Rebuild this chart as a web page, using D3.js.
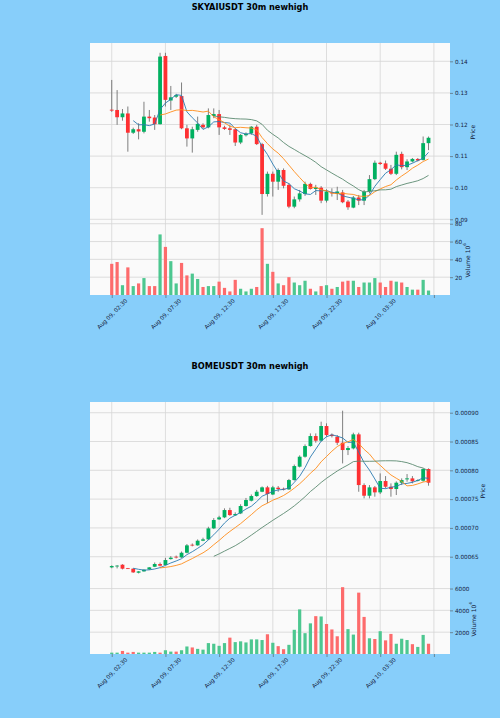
<!DOCTYPE html>
<html><head><meta charset="utf-8">
<script src="https://cdn.jsdelivr.net/npm/d3@7/dist/d3.min.js"></script>
<style>html,body{margin:0;padding:0;background:#87cefa;}svg{display:block;font-family:"DejaVu Sans",sans-serif;}</style>
</head><body>
<svg id="chart" width="500" height="718"></svg>
<script>
// ---------- shared x-axis ----------
const xTickIndex  = [0, 10, 20, 30, 40, 50, 60];
const xTickLabels = ["Aug 09, 02:30", "Aug 09, 07:30", "Aug 09, 12:30", "Aug 09, 17:30", "Aug 09, 22:30", "Aug 10, 03:30", ""];
const mavPeriods  = [5, 10, 20];

// ---------- SKYAIUSDT ----------
const skyTitle = "SKYAIUSDT 30m newhigh";
const skyOpen  = [.1247,.1246,.1223,.1235,.1174,.1185,.1177,.1225,.1222,.1201,.1417,.1276,.1288,.1290,.1188,.1156,.1183,.1199,.1191,.1227,.1233,.1191,.1188,.1185,.1143,.1166,.1172,.1193,.1138,.0980,.1044,.1019,.1056,.1009,.0940,.0963,.0980,.1012,.0996,.1000,.0959,.0985,.0980,.0985,.0956,.0937,.0969,.0959,.0988,.1027,.1079,.1077,.1060,.1044,.1107,.1065,.1083,.1091,.1088,.1141];
const skyHigh  = [.1341,.1309,.1249,.1257,.1190,.1204,.1272,.1246,.1230,.1427,.1427,.1322,.1297,.1333,.1199,.1193,.1225,.1204,.1251,.1251,.1246,.1196,.1199,.1188,.1170,.1175,.1195,.1199,.1142,.1051,.1051,.1061,.1061,.1014,.0972,.0993,.1019,.1016,.1009,.1005,.0995,.0998,.1003,.0993,.0961,.0974,.0977,.0993,.1040,.1086,.1082,.1086,.1072,.1114,.1114,.1090,.1094,.1094,.1162,.1162];
const skyLow   = [.1240,.1199,.1212,.1114,.1170,.1153,.1172,.1209,.1183,.1200,.1257,.1246,.1284,.1185,.1130,.1111,.1177,.1186,.1188,.1220,.1167,.1183,.1167,.1132,.1138,.1162,.1167,.1135,.0914,.0972,.0972,.0993,.0998,.0935,.0935,.0956,.0974,.0994,.0977,.0951,.0953,.0972,.0961,.0951,.0930,.0935,.0945,.0945,.0982,.1024,.1072,.1056,.1040,.1040,.1058,.1056,.1080,.1083,.1086,.1119];
const skyClose = [.1244,.1223,.1235,.1174,.1185,.1178,.1225,.1220,.1201,.1415,.1278,.1286,.1293,.1188,.1156,.1185,.1202,.1191,.1230,.1233,.1191,.1186,.1183,.1143,.1167,.1171,.1193,.1138,.0980,.1044,.1019,.1056,.1006,.0940,.0963,.0982,.1012,.0996,.1001,.0959,.0988,.0982,.0988,.0954,.0938,.0969,.0959,.0988,.1027,.1079,.1075,.1060,.1044,.1104,.1065,.1083,.1091,.1086,.1141,.1158];
const skyVolume = [35,37,11,31,10,13,19,10,10,68,54,38,13,36,22,24,18,9,10,10,15,8,4,17,7,4,7,9,75,35,26,13,11,20,14,11,16,7,4,10,11,7,9,15,16,16,9,14,14,19,14,9,16,15,14,9,6,6,17,5];
const skyPriceTicks = [0.09, 0.10, 0.11, 0.12, 0.13, 0.14];
const skyPriceRange = [0.0893, 0.1458];
const skyVolTicks = [20, 40, 60, 80];
const skyVolExp = "6";

// ---------- BOMEUSDT ----------
const bomeTitle = "BOMEUSDT 30m newhigh";
const bomeOpen  = [.0006315,.000634,.0006361,.00063,.0006292,.0006222,.0006245,.000628,.0006326,.0006373,.0006355,.0006459,.00065,.0006488,.0006569,.0006708,.0006697,.0006778,.0006801,.0006992,.0007148,.0007183,.000731,.0007218,.0007252,.000738,.0007472,.0007553,.0007628,.0007704,.000758,.0007698,.000768,.0007669,.0007831,.0008063,.0008236,.0008421,.0008595,.0008514,.0008769,.0008618,.0008583,.0008479,.0008352,.0008381,.0008624,.0007744,.0007559,.0007704,.0007617,.0007814,.0007715,.0007675,.0007785,.0007843,.000786,.0007819,.0007819,.0008022];
const bomeHigh  = [.000635,.0006355,.000637,.0006305,.00063,.000625,.000628,.000632,.00064,.00064,.000648,.000651,.000652,.000659,.000672,.000673,.00068,.000683,.000702,.000717,.000721,.000734,.000735,.000727,.000741,.000752,.000758,.000766,.000772,.000773,.000773,.0007727,.00077,.000785,.00081,.000826,.000845,.0008641,.0008641,.0008844,.0008815,.000864,.0008612,.0009035,.0008421,.0008653,.0008653,.0007773,.0007744,.0007727,.0007947,.00079,.0007773,.0007808,.000786,.0007935,.00079,.0007843,.0008034,.0008034];
const bomeLow   = [.00063,.0006297,.000628,.000629,.000622,.000621,.000624,.000627,.000632,.000633,.000635,.000645,.000647,.000648,.000656,.000668,.000669,.000677,.000679,.000698,.000714,.000717,.000721,.000721,.000724,.000737,.000746,.000754,.000762,.000743,.000757,.0007628,.000765,.000766,.000782,.000805,.000822,.000841,.0008479,.00085,.0008583,.000857,.0008439,.000812,.0008265,.0008363,.0007628,.0007513,.0007513,.0007542,.0007588,.0007686,.0007542,.0007571,.0007744,.0007802,.0007773,.0007808,.0007802,.0007733];
const bomeClose = [.0006338,.0006345,.0006292,.0006297,.0006228,.0006245,.0006274,.0006315,.0006373,.0006344,.0006442,.0006483,.0006488,.0006569,.0006697,.0006697,.0006778,.0006801,.0006992,.0007137,.0007183,.000731,.0007223,.0007241,.000738,.0007484,.0007553,.0007628,.0007704,.0007588,.0007704,.0007675,.000767,.0007831,.0008074,.0008236,.0008421,.0008595,.0008514,.0008769,.0008612,.0008595,.0008479,.0008352,.0008387,.0008624,.0007744,.0007559,.0007704,.0007617,.0007814,.0007715,.0007675,.0007785,.0007831,.000786,.0007808,.0007831,.0008022,.0007785];
const bomeVolume = [125,125,280,125,190,125,125,125,190,125,345,220,220,345,690,600,470,400,1000,940,750,1000,1500,1090,1160,1060,1340,1340,1280,1810,1030,720,440,840,2220,4090,1910,2810,3470,3440,2750,2250,1625,6125,2280,1780,5625,3400,1440,1375,2090,1250,1840,940,1400,1280,900,650,1750,940];
const bomePriceTicks = [0.00065, 0.00070, 0.00075, 0.00080, 0.00085, 0.00090];
const bomePriceRange = [0.0006087, 0.0009186];
const bomeVolTicks = [2000, 4000, 6000];
const bomeVolExp = "4";

// ---------- styling ----------
const UP = "#00b060", DOWN = "#fe3032", WICK = "#606060";
const VUP = "#4dc790", VDOWN = "#fd6b6c";
const MAV_COLORS = ["#2a7ab0", "#ff8c1a", "#5b8a70"];
const FACE = "#fafafa", GRID = "#d6d6d6", TXT = "#14203a";

const svg = d3.select("#chart");

function sma(arr, p) {
  return arr.map((v, i) => i < p - 1 ? null : d3.mean(arr.slice(i - p + 1, i + 1)));
}

function drawChart(cfg, off, lay) {
  const g = svg.append("g").attr("transform", `translate(0,${off})`);
  const L = 90, R = 450, top = 43, mid = 221.5, bot = 295;
  const n = cfg.open.length;
  const x = d3.scaleLinear().domain([-4.05, n + 3]).range([L, R]);
  const y = d3.scaleLinear().domain(cfg.priceRange).range([mid, top]);
  const vy = d3.scaleLinear().domain([0, d3.max(cfg.volume) * 1.1]).range([bot, mid]);

  g.append("text").attr("x", 250).attr("y", 10).attr("text-anchor", "middle")
    .attr("font-size", 8.2).attr("font-weight", "bold").attr("fill", "#000").text(cfg.title);

  g.append("rect").attr("x", L).attr("y", top).attr("width", R - L).attr("height", bot - top).attr("fill", FACE);

  // grid
  const grid = g.append("g").attr("stroke", GRID).attr("stroke-width", 0.8);
  xTickIndex.forEach(i => grid.append("line").attr("x1", x(i)).attr("x2", x(i)).attr("y1", top).attr("y2", bot));
  cfg.priceTicks.forEach(t => grid.append("line").attr("x1", L).attr("x2", R).attr("y1", y(t)).attr("y2", y(t)));
  cfg.volTicks.forEach(t => grid.append("line").attr("x1", L).attr("x2", R).attr("y1", vy(t)).attr("y2", vy(t)));

  const idx = d3.range(n);
  // volume bars
  g.append("g").selectAll("rect").data(idx).join("rect")
    .attr("x", i => x(i) - 1.6).attr("width", 3.2)
    .attr("y", i => vy(cfg.volume[i])).attr("height", i => bot - vy(cfg.volume[i]))
    .attr("fill", i => cfg.close[i] >= cfg.open[i] ? VUP : VDOWN);

  // wicks
  g.append("g").selectAll("line").data(idx).join("line")
    .attr("x1", i => x(i)).attr("x2", i => x(i))
    .attr("y1", i => y(cfg.high[i])).attr("y2", i => y(cfg.low[i]))
    .attr("stroke", WICK).attr("stroke-width", 0.8);
  // bodies
  g.append("g").selectAll("rect").data(idx).join("rect")
    .attr("x", i => x(i) - 1.9).attr("width", 3.8)
    .attr("y", i => y(Math.max(cfg.open[i], cfg.close[i])))
    .attr("height", i => Math.max(0.8, Math.abs(y(cfg.open[i]) - y(cfg.close[i]))))
    .attr("fill", i => cfg.close[i] >= cfg.open[i] ? UP : DOWN);

  // moving averages
  mavPeriods.forEach((p, k) => {
    const m = sma(cfg.close, p);
    const line = d3.line().defined(d => d !== null).x((d, i) => x(i)).y(d => y(d));
    g.append("path").datum(m).attr("d", line).attr("fill", "none")
      .attr("stroke", MAV_COLORS[k]).attr("stroke-width", 0.9);
  });

  // axes
  const ya = g.append("g").attr("transform", `translate(${R},0)`)
    .call(d3.axisRight(y).tickValues(cfg.priceTicks).tickSize(3).tickPadding(2).tickFormat(cfg.fmt));
  const va = g.append("g").attr("transform", `translate(${R},0)`)
    .call(d3.axisRight(vy).tickValues(cfg.volTicks).tickSize(3).tickPadding(2).tickFormat(d3.format("d")));
  const xa = g.append("g").attr("transform", `translate(0,${bot})`)
    .call(d3.axisBottom(x).tickValues(xTickIndex).tickSize(3).tickFormat((d, i) => xTickLabels[i]));
  [ya, va, xa].forEach(a => {
    a.select(".domain").remove();
    a.selectAll(".tick line").attr("stroke", "#555").attr("stroke-width", 0.6);
    a.selectAll("text").attr("fill", TXT).attr("font-size", 5.7).attr("font-family", "DejaVu Sans");
  });
  xa.selectAll("text").attr("y", 0).attr("dy", "0.35em").attr("text-anchor", "middle")
    .attr("transform", "translate(0,19) rotate(-45)");

  g.append("text").attr("transform", `translate(${lay.priceLabelX},${(top + mid) / 2}) rotate(-90)`)
    .attr("text-anchor", "middle").attr("dy", "0.35em").attr("font-size", 6).attr("fill", TXT).text("Price");
  const vt = g.append("text").attr("transform", `translate(${lay.volLabelX},${(mid + bot) / 2 + 2}) rotate(-90)`)
    .attr("text-anchor", "middle").attr("dy", "0.35em").attr("font-size", 6).attr("fill", TXT);
  vt.append("tspan").text("Volume  10");
  vt.append("tspan").attr("font-size", 4.2).attr("dy", "-0.9em").text(cfg.volExp);
}

drawChart({title: skyTitle, open: skyOpen, high: skyHigh, low: skyLow, close: skyClose, volume: skyVolume,
  priceTicks: skyPriceTicks, priceRange: skyPriceRange, volTicks: skyVolTicks, volExp: skyVolExp,
  fmt: d => d.toFixed(2)}, 0, {priceLabelX: 473, volLabelX: 468});
drawChart({title: bomeTitle, open: bomeOpen, high: bomeHigh, low: bomeLow, close: bomeClose, volume: bomeVolume,
  priceTicks: bomePriceTicks, priceRange: bomePriceRange, volTicks: bomeVolTicks, volExp: bomeVolExp,
  fmt: d => d.toFixed(5)}, 359, {priceLabelX: 483, volLabelX: 474});
</script>
</body></html>
